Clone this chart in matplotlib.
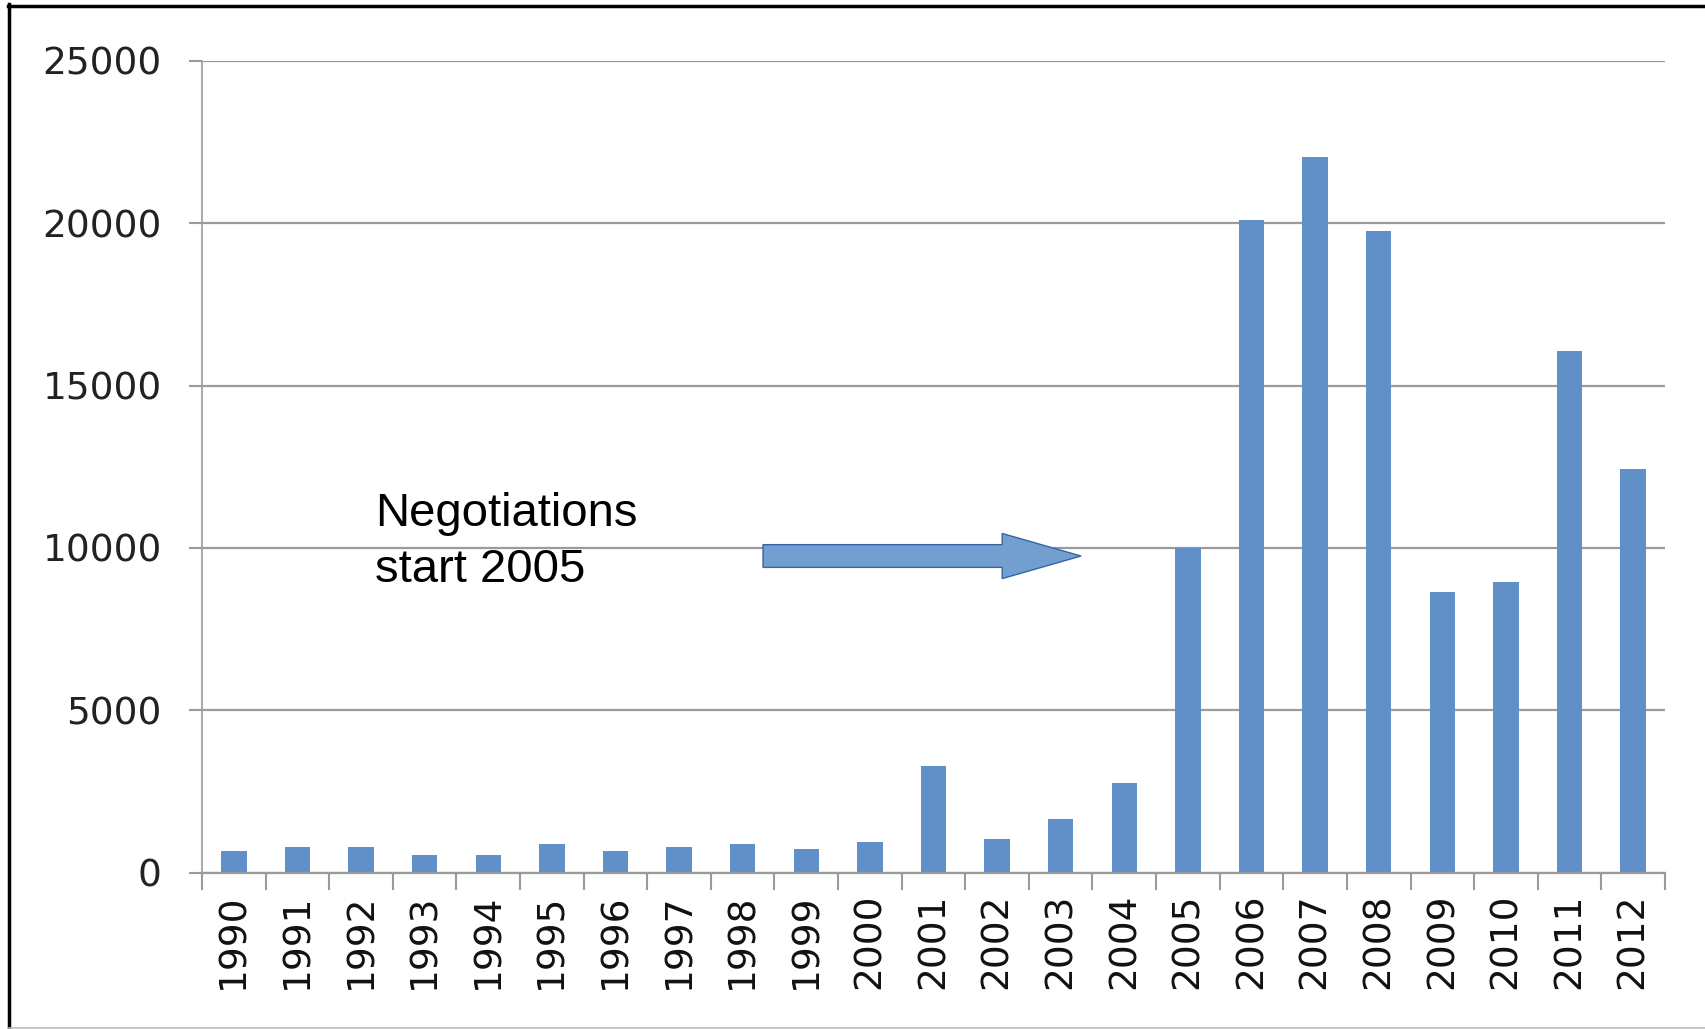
import matplotlib
matplotlib.use("Agg")
import matplotlib.pyplot as plt
from matplotlib.patches import FancyArrow
from matplotlib.lines import Line2D

# values
years = [str(y) for y in range(1990, 2013)]
counts = [680, 780, 780, 550, 550, 880, 680, 780, 880, 730, 950,
          3280, 1040, 1640, 2750, 10000, 20100, 22050, 19750, 8650, 8950,
          16050, 12420]
y_ticks = [0, 5000, 10000, 15000, 20000, 25000]
note = "Negotiations\nstart 2005"

bar_color = '#6190c8'
grid_color = '#9a9a9a'

fig = plt.figure(figsize=(17.05, 10.29), dpi=100)
ax = fig.add_axes([0.1185, 0.1519, 0.858, 0.7891])

x = list(range(len(years)))
ax.bar(x, counts, width=0.4, color=bar_color, zorder=3)

ax.set_xlim(-0.5, len(years) - 0.5)
ax.set_ylim(0, 25000)

# y axis: gridlines + outward ticks
ax.set_yticks(y_ticks)
ax.set_yticklabels([str(v) for v in y_ticks])
ax.yaxis.grid(True, color=grid_color, linewidth=1.6, zorder=1)
ax.tick_params(axis='y', length=9.5, width=1.5, color=grid_color, pad=19.5,
               labelsize=27, labelcolor='#222222')

# x axis: labels at centres, tick marks at category boundaries
ax.set_xticks(x)
ax.set_xticklabels(years, rotation=90)
ax.set_xticks([i - 0.5 for i in range(len(years) + 1)], minor=True)
ax.tick_params(axis='x', which='major', length=0, pad=15, labelsize=27,
               labelcolor='#111111')
ax.tick_params(axis='x', which='minor', length=12, width=1.5, color=grid_color)

for s in ['top', 'right']:
    ax.spines[s].set_visible(False)
ax.spines['left'].set_color(grid_color)
ax.spines['left'].set_linewidth(1.2)
ax.spines['bottom'].set_color(grid_color)
ax.spines['bottom'].set_linewidth(1.6)
ax.spines['bottom'].set_zorder(4)

# annotation arrow
arrow = FancyArrow(8.32, 9750, 5.0, 0, width=700, head_width=1390,
                   head_length=1.24, length_includes_head=True,
                   facecolor='#729fcf', edgecolor='#3465a4', linewidth=1,
                   zorder=5)
ax.add_patch(arrow)

fig.text(0.22, 0.522, note, fontsize=34, family='Liberation Sans',
         ha='left', va='top', linespacing=1.36)

# frame around the picture
fig.add_artist(Line2D([9 / 1705, 9 / 1705], [0, 1 - 4 / 1029], color='black',
                      linewidth=2.5, transform=fig.transFigure))
fig.add_artist(Line2D([8 / 1705, 1], [1 - 6 / 1029, 1 - 6 / 1029], color='black',
                      linewidth=2.5, transform=fig.transFigure))
fig.add_artist(Line2D([9 / 1705, 1], [1.5 / 1029, 1.5 / 1029], color='#bbbbbb',
                      linewidth=1.2, transform=fig.transFigure))

fig.savefig('out.png', dpi=100)
